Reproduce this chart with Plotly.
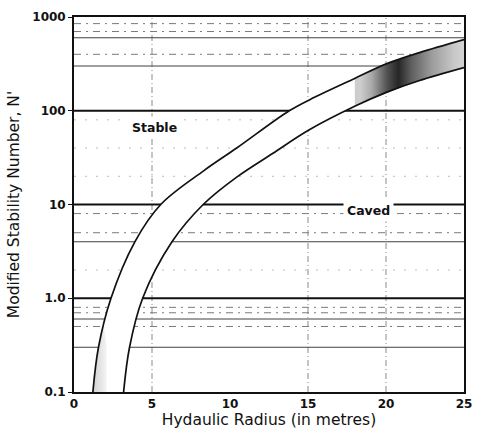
import numpy as np
import plotly.graph_objects as go

# ---- data ----
upper_x = [1.21, 1.57, 2.37, 3.9, 5.56, 8.33, 10.43, 13.8, 15.45, 17.96, 20.06, 22.15, 25.0]
upper_y = [0.1, 0.3, 1.0, 4, 10, 23, 40, 100, 140, 220, 318, 417, 574]

lower_x = [3.18, 3.56, 4.40, 6.28, 8.28, 10.43, 12.73, 15.03, 17.96, 20.06, 22.15, 25.0]
lower_y = [0.1, 0.3, 1.0, 4, 10, 19.6, 35, 62, 111, 158, 210, 288]

# transition (shaded) zone of the band
shade_x_start = 18.0
shade_x_end = 25.0
# light shading at the foot of the stable boundary
foot_shade_x_end = 2.1
foot_shade_y_top = 0.5

# horizontal reference lines
major_lines = [1, 10, 100]
minor_solid = [600, 300, 4, 0.6, 0.3]
minor_dashed = [850, 700, 400, 8, 5, 0.8, 0.7, 0.5]
faint_dotted = [80, 40, 20, 2]
vertical_lines = [5, 15, 20]

y_tickvals = [0.1, 1, 10, 100, 1000]
y_ticktext = ["0.1", "1.0", "10", "100", "1000"]
x_tickvals = [0, 5, 10, 15, 20, 25]

labels = [("Stable", 5.15, 66.5), ("Caved", 18.85, 8.6)]

X_MIN, X_MAX = 0, 25
Y_MIN, Y_MAX = 0.1, 1000

TXT = "DejaVu Sans, Liberation Sans, Arial"

fig = go.Figure()

def hline(y, color, width, dash):
    fig.add_trace(go.Scatter(x=[X_MIN, X_MAX], y=[y, y], mode="lines",
                             line=dict(color=color, width=width, dash=dash),
                             hoverinfo="skip", showlegend=False))

def vline(x, color, width, dash):
    fig.add_trace(go.Scatter(x=[x, x], y=[Y_MIN, Y_MAX], mode="lines",
                             line=dict(color=color, width=width, dash=dash),
                             hoverinfo="skip", showlegend=False))

for y in faint_dotted:
    hline(y, "#bdbdbd", 1, "2px,9px")
for x in vertical_lines:
    vline(x, "#8a8a8a", 1, "6px,3px,1px,3px")
for y in minor_dashed:
    hline(y, "#7a7a7a", 1, "7px,5px,2px,5px")
for y in minor_solid:
    hline(y, "#404040", 1.1, "solid")
for y in major_lines:
    hline(y, "#111111", 1.8, "solid")

# white band between the two boundaries
fig.add_trace(go.Scatter(x=upper_x, y=upper_y, mode="lines",
                         line=dict(width=0, shape="spline", color="white"),
                         hoverinfo="skip", showlegend=False))
fig.add_trace(go.Scatter(x=lower_x, y=lower_y, mode="lines", fill="tonexty",
                         fillcolor="white",
                         line=dict(width=0, shape="spline", color="white"),
                         hoverinfo="skip", showlegend=False))

# gradient-shaded transition zone
xs = np.linspace(shade_x_start, shade_x_end, 60)
up = 10 ** np.interp(xs, upper_x, np.log10(upper_y))
lo = 10 ** np.interp(xs, lower_x, np.log10(lower_y))
fig.add_trace(go.Scatter(
    x=np.concatenate([xs, xs[::-1]]), y=np.concatenate([up, lo[::-1]]),
    mode="lines", fill="toself", line=dict(width=0),
    fillgradient=dict(type="horizontal", start=shade_x_start, stop=shade_x_end,
                      colorscale=[[0.0, "#cdcdcd"], [0.1, "#a9a9a9"],
                                  [0.24, "#505050"], [0.34, "#262626"],
                                  [0.46, "#606060"], [0.64, "#9c9c9c"],
                                  [0.84, "#c8c8c8"], [1.0, "#dedede"]]),
    hoverinfo="skip", showlegend=False))

# light shading at the foot of the stable boundary
ly = np.logspace(np.log10(Y_MIN), np.log10(foot_shade_y_top), 20)
lx = np.interp(np.log10(ly), np.log10(upper_y), upper_x)
fig.add_trace(go.Scatter(
    x=np.concatenate([lx, [foot_shade_x_end, foot_shade_x_end]]),
    y=np.concatenate([ly, [foot_shade_y_top * 0.6, Y_MIN]]),
    mode="lines", fill="toself", line=dict(width=0),
    fillgradient=dict(type="horizontal", start=lx.min(), stop=foot_shade_x_end,
                      colorscale=[[0, "#d2d2d2"], [1, "#f6f6f6"]]),
    hoverinfo="skip", showlegend=False))

# boundary lines
for bx, by in [(upper_x, upper_y), (lower_x, lower_y)]:
    fig.add_trace(go.Scatter(x=bx, y=by, mode="lines",
                             line=dict(color="#111111", width=1.7, shape="spline"),
                             hoverinfo="skip", showlegend=False))

for text, lx_, ly_ in labels:
    fig.add_annotation(x=lx_, y=np.log10(ly_), text=text, showarrow=False,
                       font=dict(family=TXT, size=12.5, color="#111", weight="bold"),
                       bgcolor="white", borderpad=3)

fig.update_layout(
    width=481, height=442,
    margin=dict(l=74, r=9, t=17, b=50),
    paper_bgcolor="white", plot_bgcolor="white",
    font=dict(family=TXT, color="#111"),
    showlegend=False,
)
fig.update_xaxes(range=[X_MIN, X_MAX], tickvals=x_tickvals, showgrid=False,
                 zeroline=False, showline=True, mirror=True, linecolor="#111",
                 linewidth=1.5, ticks="",
                 tickfont=dict(size=12, family=TXT, weight="bold"),
                 title=dict(text="Hydaulic Radius (in metres)", standoff=4,
                            font=dict(size=15.5, family=TXT)))
fig.update_yaxes(type="log", range=[np.log10(Y_MIN), np.log10(Y_MAX)],
                 tickvals=y_tickvals, ticktext=y_ticktext, showgrid=False,
                 zeroline=False, showline=True, mirror=True, linecolor="#111",
                 linewidth=1.8, ticks="outside", ticklen=4, tickcolor="#111",
                 tickfont=dict(size=12, family=TXT, weight="bold"),
                 title=dict(text="Modified Stability Number, N'", standoff=9,
                            font=dict(size=15.5, family=TXT)))

fig.write_html("out.html")
